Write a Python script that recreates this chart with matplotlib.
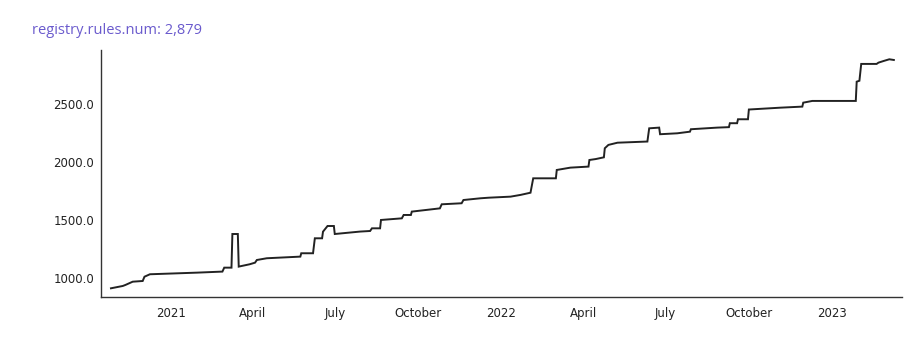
import matplotlib
matplotlib.use("Agg")
import matplotlib.pyplot as plt
import numpy as np
import pandas as pd

dates = [
    "2020-10-27", "2020-11-09", "2020-11-12", "2020-11-20", "2020-12-01", "2020-12-03",
    "2020-12-09", "2021-01-30", "2021-02-27", "2021-03-01", "2021-03-09", "2021-03-10",
    "2021-03-16", "2021-03-17", "2021-03-29", "2021-04-04", "2021-04-06", "2021-04-17",
    "2021-05-24", "2021-05-25", "2021-06-07", "2021-06-09", "2021-06-17", "2021-06-18",
    "2021-06-23", "2021-06-30", "2021-07-01", "2021-07-29", "2021-08-09", "2021-08-11",
    "2021-08-20", "2021-08-21", "2021-09-13", "2021-09-15", "2021-09-23", "2021-09-24",
    "2021-10-25", "2021-10-27", "2021-11-18", "2021-11-20", "2021-12-09", "2021-12-18",
    "2022-01-11", "2022-01-22", "2022-02-02", "2022-02-05", "2022-03-02", "2022-03-03",
    "2022-03-18", "2022-04-07", "2022-04-08", "2022-04-15", "2022-04-24", "2022-04-25",
    "2022-04-29", "2022-05-09", "2022-06-11", "2022-06-13", "2022-06-24", "2022-06-25",
    "2022-07-14", "2022-07-28", "2022-07-29", "2022-08-27", "2022-09-09", "2022-09-10",
    "2022-09-18", "2022-09-19", "2022-09-30", "2022-10-01", "2022-11-05", "2022-11-29",
    "2022-11-30", "2022-12-10", "2023-01-27", "2023-01-28", "2023-01-31", "2023-02-02",
    "2023-02-19", "2023-02-21", "2023-02-27", "2023-03-05", "2023-03-10",
]
values = [
    911, 931, 940, 968, 974, 1011,
    1032, 1046, 1055, 1089, 1089, 1379,
    1379, 1098, 1118, 1132, 1155, 1170,
    1184, 1213, 1213, 1342, 1342, 1399,
    1448, 1448, 1379, 1400, 1405, 1428,
    1428, 1500, 1514, 1543, 1543, 1572,
    1600, 1635, 1644, 1672, 1687, 1692,
    1701, 1716, 1735, 1859, 1859, 1931,
    1951, 1960, 2017, 2025, 2040, 2118,
    2147, 2166, 2176, 2290, 2296, 2239,
    2247, 2261, 2282, 2296, 2300, 2334,
    2334, 2368, 2368, 2452, 2468, 2477,
    2511, 2526, 2526, 2692, 2700, 2845,
    2845, 2856, 2871, 2885, 2879,
]
title_text = "registry.rules.num: 2,879"
y_ticks = [1000, 1500, 2000, 2500]
x_tick_dates = ["2021-01-01", "2021-04-01", "2021-07-01", "2021-10-01", "2022-01-01",
                "2022-04-01", "2022-07-01", "2022-10-01", "2023-01-01"]
x_tick_labels = ["2021", "April", "July", "October", "2022", "April", "July", "October", "2023"]

x = pd.to_datetime(dates)

fig = plt.figure(figsize=(9.23, 3.57), dpi=100)
ax = fig.add_axes([101/923, 1-297/357, (902-101)/923, (297-50)/357])
ax.plot(x, values, color="#222222", lw=1.4, solid_joinstyle="miter")

ax.set_ylim(836, 2965)
ax.set_xlim(pd.Timestamp("2020-10-16"), pd.Timestamp("2023-03-19"))
ax.set_yticks(y_ticks)
ax.set_yticklabels([f"{v:.1f}" for v in y_ticks])
ax.set_xticks(pd.to_datetime(x_tick_dates))
ax.set_xticklabels(x_tick_labels)
ax.tick_params(axis="both", length=0, labelsize=8.5, colors="#222222")
ax.tick_params(axis="y", pad=5)
ax.tick_params(axis="x", pad=7)
for s in ["top", "right"]:
    ax.spines[s].set_visible(False)
for s in ["left", "bottom"]:
    ax.spines[s].set_color("#333333")
    ax.spines[s].set_linewidth(1.0)

fig.text(32/923, 1-31/357, title_text, color="#6a5acd", fontsize=10.5,
         family="Open Sans", va="center", ha="left")

fig.savefig("out.png", dpi=100)
